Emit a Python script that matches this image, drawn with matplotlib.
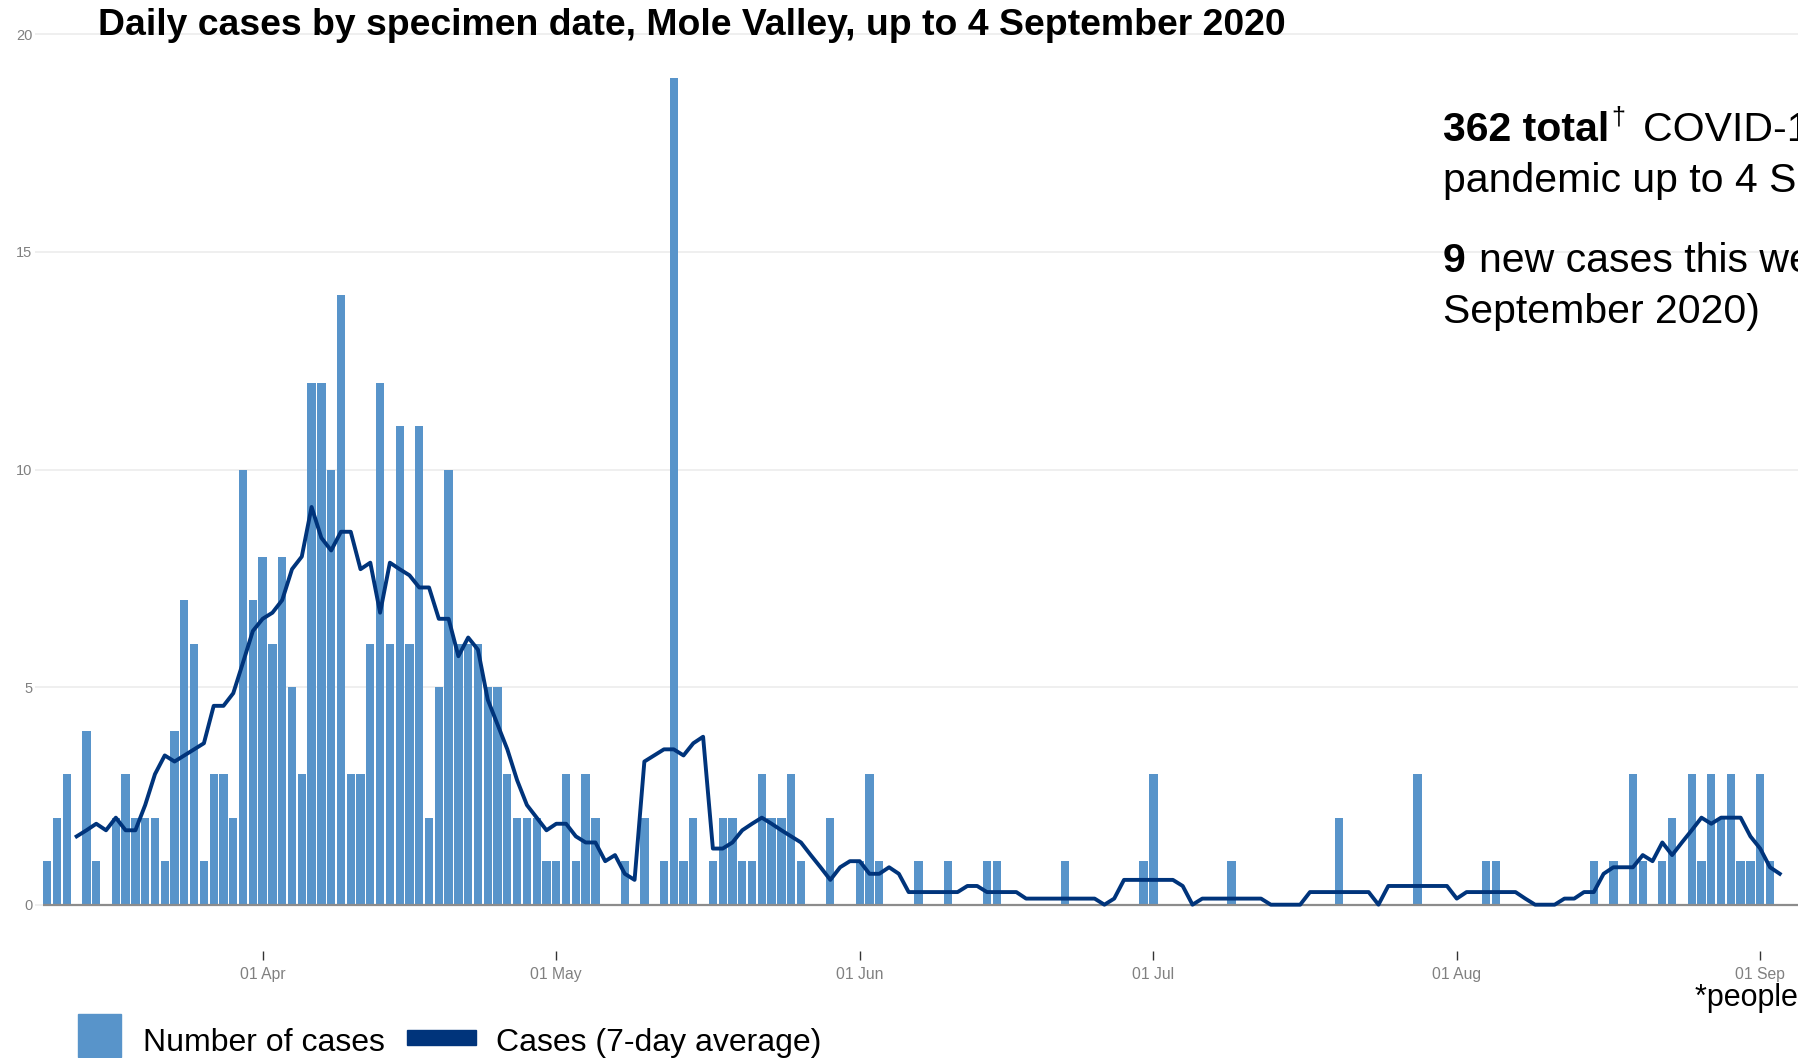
#!/usr/bin/env python3
"""Daily COVID-19 cases by specimen date, Mole Valley, up to 4 September 2020."""
from datetime import datetime, timedelta

import matplotlib
matplotlib.use("Agg")
import matplotlib.pyplot as plt
from matplotlib.patches import Rectangle
import pandas as pd

W, H = 1798, 1058

START = "2020-03-10"
cases = [
    1, 2, 3, 0, 4, 1, 0, 2, 3, 2,
    2, 2, 1, 4, 7, 6, 1, 3, 3, 2,
    10, 7, 8, 6, 8, 5, 3, 12, 12, 10,
    14, 3, 3, 6, 12, 6, 11, 6, 11, 2,
    5, 10, 6, 6, 6, 5, 5, 3, 2, 2,
    2, 1, 1, 3, 1, 3, 2, 0, 0, 1,
    0, 2, 0, 1, 19, 1, 2, 0, 1, 2,
    2, 1, 1, 3, 2, 2, 3, 1, 0, 0,
    2, 0, 0, 1, 3, 1, 0, 0, 0, 1,
    0, 0, 1, 0, 0, 0, 1, 1, 0, 0,
    0, 0, 0, 0, 1, 0, 0, 0, 0, 0,
    0, 0, 1, 3, 0, 0, 0, 0, 0, 0,
    0, 1, 0, 0, 0, 0, 0, 0, 0, 0,
    0, 0, 2, 0, 0, 0, 0, 0, 0, 0,
    3, 0, 0, 0, 0, 0, 0, 1, 1, 0,
    0, 0, 0, 0, 0, 0, 0, 0, 1, 0,
    1, 0, 3, 1, 0, 1, 2, 0, 3, 1,
    3, 2, 3, 1, 1, 3, 1, 0, 0,
]

AVG_START = "2020-03-13"
avg_7day = [
    1.57, 1.71, 1.86, 1.71, 2.00, 1.71, 1.71,
    2.29, 3.00, 3.43, 3.29, 3.43, 3.57, 3.71, 4.57, 4.57, 4.86,
    5.57, 6.29, 6.57, 6.71, 7.00, 7.71, 8.00, 9.14, 8.43, 8.14,
    8.57, 8.57, 7.71, 7.86, 6.71, 7.86, 7.71, 7.57, 7.29, 7.29,
    6.57, 6.57, 5.71, 6.14, 5.86, 4.71, 4.14, 3.57, 2.86, 2.29,
    2.00, 1.71, 1.86, 1.86, 1.57, 1.43, 1.43, 1.00, 1.14, 0.71,
    0.57, 3.29, 3.43, 3.57, 3.57, 3.43, 3.71, 3.86, 1.29, 1.29,
    1.43, 1.71, 1.86, 2.00, 1.86, 1.71, 1.57, 1.43, 1.14, 0.86,
    0.57, 0.86, 1.00, 1.00, 0.71, 0.71, 0.86, 0.71, 0.29, 0.29,
    0.29, 0.29, 0.29, 0.29, 0.43, 0.43, 0.29, 0.29, 0.29, 0.29,
    0.14, 0.14, 0.14, 0.14, 0.14, 0.14, 0.14, 0.14, 0.00, 0.14,
    0.57, 0.57, 0.57, 0.57, 0.57, 0.57, 0.43, 0.00, 0.14, 0.14,
    0.14, 0.14, 0.14, 0.14, 0.14, 0.00, 0.00, 0.00, 0.00, 0.29,
    0.29, 0.29, 0.29, 0.29, 0.29, 0.29, 0.00, 0.43, 0.43, 0.43,
    0.43, 0.43, 0.43, 0.43, 0.14, 0.29, 0.29, 0.29, 0.29, 0.29,
    0.29, 0.14, 0.00, 0.00, 0.00, 0.14, 0.14, 0.29, 0.29, 0.71,
    0.86, 0.86, 0.86, 1.14, 1.00, 1.43, 1.14, 1.43, 1.71, 2.00,
    1.86, 2.00, 2.00, 2.00, 1.57, 1.29, 0.86, 0.71,
]

month_ticks = ["2020-04-01", "2020-05-01", "2020-06-01",
               "2020-07-01", "2020-08-01", "2020-09-01"]
y_ticks = [0, 5, 10, 15, 20]

BAR_COL = "#5894CA"
LINE_COL = "#00347B"
GREY = "#808080"
FONT = "Liberation Sans"


def fx(px):
    return px / W


def fy(py):
    return 1 - py / H


def main() -> None:
    plt.rcParams["font.family"] = [FONT, "DejaVu Sans"]
    fig = plt.figure(figsize=(W / 100, H / 100), dpi=100)

    dates = pd.date_range(START, periods=len(cases), freq="D").to_pydatetime()
    avg_dates = pd.date_range(AVG_START, periods=len(avg_7day), freq="D").to_pydatetime()
    t0 = dates[0]

    # panel geometry (pixels in the full figure)
    left_px, top_px, bottom_px = 35.0, 25.7, 950.6
    px_per_day = 9.788
    x_lo = -(47.3 - left_px) / px_per_day
    x_hi = 186
    ax = fig.add_axes([fx(left_px), fy(bottom_px),
                       (x_hi - x_lo) * px_per_day / W,
                       (bottom_px - top_px) / H])

    ax.bar(dates, cases, width=0.85, color=BAR_COL, zorder=2)
    ax.plot(avg_dates, avg_7day, color=LINE_COL, linewidth=2.8, zorder=4)
    ax.hlines(0, t0 - timedelta(days=0.45), t0 + timedelta(days=x_hi),
              color="#8C8C8C", linewidth=1.6, zorder=3)

    ax.set_xlim(t0 + timedelta(days=x_lo), t0 + timedelta(days=x_hi))
    ax.set_ylim(-1.055, 20.2)

    ax.set_yticks(y_ticks)
    ax.set_yticklabels([str(v) for v in y_ticks])
    ax.yaxis.grid(True, color="#EBEBEB", linewidth=1.1)
    ax.set_axisbelow(True)
    ax.tick_params(axis="y", length=0, pad=2, labelsize=10.5, labelcolor=GREY)

    ticks = [datetime.strptime(d, "%Y-%m-%d") for d in month_ticks]
    ax.set_xticks(ticks)
    ax.set_xticklabels([d.strftime("%d %b") for d in ticks])
    ax.tick_params(axis="x", direction="out", length=6.5, width=1.0,
                   color="#333333", pad=5, labelsize=11.3, labelcolor=GREY)

    for s in ax.spines.values():
        s.set_visible(False)

    # title
    fig.text(fx(97.5), fy(35), "Daily cases by specimen date, Mole Valley, up to 4 September 2020",
             fontsize=26.9, fontweight="bold", va="baseline", ha="left")

    # summary text (runs off the right edge as in the source)
    fs = 29.5
    fig.text(fx(1443), fy(141), "362 total", fontsize=fs, fontweight="bold", va="baseline")
    fig.text(fx(1611), fy(124), "\u2020", fontsize=18, va="baseline")
    fig.text(fx(1643), fy(141), "COVID-19 cases* during the", fontsize=fs, va="baseline")
    fig.text(fx(1443), fy(192), "pandemic up to 4 September 2020", fontsize=fs, va="baseline")
    fig.text(fx(1443), fy(272), "9", fontsize=fs, fontweight="bold", va="baseline")
    fig.text(fx(1479), fy(272), "new cases this week (29 August - 4", fontsize=fs, va="baseline")
    fig.text(fx(1443), fy(323), "September 2020)", fontsize=fs, va="baseline")

    fig.text(fx(1695), fy(1005.6), "*people tested positive", fontsize=22, va="baseline")

    # legend
    fig.patches.append(Rectangle((fx(78), fy(1057)), fx(43), 43 / H,
                                 transform=fig.transFigure, color=BAR_COL))
    fig.text(fx(143), fy(1051), "Number of cases", fontsize=23, va="baseline")
    fig.patches.append(Rectangle((fx(407), fy(1045)), fx(69), 15 / H,
                                 transform=fig.transFigure, color=LINE_COL))
    fig.text(fx(496.5), fy(1051), "Cases (7-day average)", fontsize=23, va="baseline")

    fig.savefig("out.png", dpi=100)


if __name__ == "__main__":
    main()
